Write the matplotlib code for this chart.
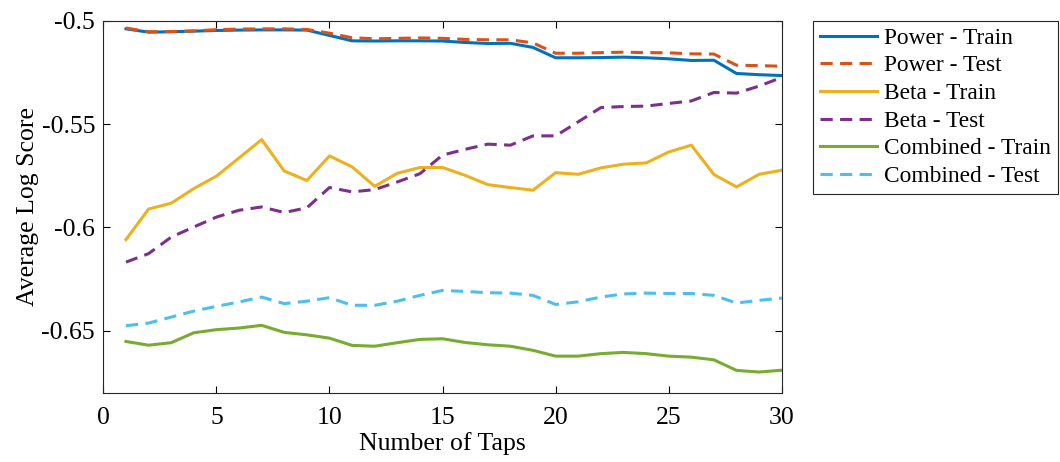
import numpy as np
import matplotlib
matplotlib.use("Agg")
import matplotlib.pyplot as plt

plt.rcParams['font.family'] = ['Liberation Serif', 'DejaVu Serif']
plt.rcParams['font.size'] = 18.5

taps = np.arange(1, 31)

power_train = [-0.5039, -0.5055, -0.5053, -0.5050, -0.5047, -0.5045, -0.5044, -0.5044, -0.5045, -0.5071,
               -0.5097, -0.5098, -0.5097, -0.5097, -0.5098, -0.5105, -0.5110, -0.5109, -0.5129, -0.5179,
               -0.5179, -0.5178, -0.5176, -0.5179, -0.5184, -0.5192, -0.5191, -0.5255, -0.5261, -0.5265]
power_test = [-0.5035, -0.5053, -0.5052, -0.5049, -0.5043, -0.5040, -0.5039, -0.5039, -0.5042, -0.5060,
              -0.5082, -0.5087, -0.5085, -0.5083, -0.5085, -0.5090, -0.5092, -0.5092, -0.5107, -0.5157,
              -0.5157, -0.5154, -0.5152, -0.5154, -0.5155, -0.5160, -0.5161, -0.5215, -0.5217, -0.5220]
beta_train = [-0.6059, -0.5911, -0.5883, -0.5812, -0.5752, -0.5664, -0.5575, -0.5727, -0.5773, -0.5654,
              -0.5707, -0.5801, -0.5738, -0.5710, -0.5710, -0.5748, -0.5793, -0.5807, -0.5820, -0.5735,
              -0.5743, -0.5712, -0.5694, -0.5688, -0.5635, -0.5602, -0.5744, -0.5804, -0.5743, -0.5723]
beta_test = [-0.6168, -0.6127, -0.6047, -0.5998, -0.5950, -0.5917, -0.5901, -0.5928, -0.5905, -0.5807,
             -0.5828, -0.5817, -0.5780, -0.5740, -0.5650, -0.5622, -0.5597, -0.5602, -0.5557, -0.5557,
             -0.5489, -0.5420, -0.5415, -0.5413, -0.5400, -0.5388, -0.5347, -0.5350, -0.5316, -0.5274]
comb_train = [-0.6552, -0.6570, -0.6558, -0.6510, -0.6495, -0.6487, -0.6474, -0.6508, -0.6520, -0.6536,
              -0.6571, -0.6575, -0.6558, -0.6542, -0.6539, -0.6557, -0.6568, -0.6575, -0.6595, -0.6623,
              -0.6623, -0.6611, -0.6605, -0.6611, -0.6623, -0.6628, -0.6641, -0.6692, -0.6700, -0.6691]
comb_test = [-0.6476, -0.6463, -0.6434, -0.6405, -0.6382, -0.6361, -0.6337, -0.6369, -0.6357, -0.6340,
             -0.6377, -0.6377, -0.6357, -0.6329, -0.6305, -0.6310, -0.6316, -0.6318, -0.6329, -0.6373,
             -0.6360, -0.6337, -0.6322, -0.6318, -0.6320, -0.6320, -0.6329, -0.6366, -0.6353, -0.6342]

fig = plt.figure(figsize=(10.6, 4.62), dpi=100)
ax = fig.add_axes([0.0975, 0.15, 0.64, 0.805])

lw = 2.2
dash = (4, 2.4)
ax.plot(taps, power_train, color='#0072BD', lw=lw, label='Power - Train')
ax.plot(taps, power_test, color='#D95319', lw=lw, dashes=dash, label='Power - Test')
ax.plot(taps, beta_train, color='#EDB120', lw=lw, label='Beta - Train')
ax.plot(taps, beta_test, color='#7E2F8E', lw=lw, dashes=dash, label='Beta - Test')
ax.plot(taps, comb_train, color='#77AC30', lw=lw, label='Combined - Train')
ax.plot(taps, comb_test, color='#4DBEEE', lw=lw, dashes=dash, label='Combined - Test')

ax.set_xlim(0, 30)
ax.set_ylim(-0.68, -0.5)
ax.set_xticks([0, 5, 10, 15, 20, 25, 30])
ax.set_yticks([-0.65, -0.6, -0.55, -0.5])
ax.set_yticklabels(['-0.65', '-0.6', '-0.55', '-0.5'])
ax.tick_params(direction='in', length=5, width=0.8, top=True, right=True, labelsize=18.5)
ax.tick_params(axis='x', pad=10)
ax.tick_params(axis='y', pad=6)
for s in ax.spines.values():
    s.set_linewidth(0.8)
    s.set_color('#262626')

ax.set_xlabel('Number of Taps', fontsize=18.5, labelpad=2.5)
ax.set_ylabel('Average Log Score', fontsize=18.5, labelpad=2)

leg = fig.legend(loc='upper left', bbox_to_anchor=(813 / 1060, 1 - 20.5 / 462), fontsize=16.8,
                 handlelength=2.45, handletextpad=0.3, labelspacing=0.27, borderpad=0.3,
                 borderaxespad=0, fancybox=False, framealpha=1, edgecolor='#262626')
leg.get_frame().set_linewidth(0.8)

fig.savefig('out.png', dpi=100)
